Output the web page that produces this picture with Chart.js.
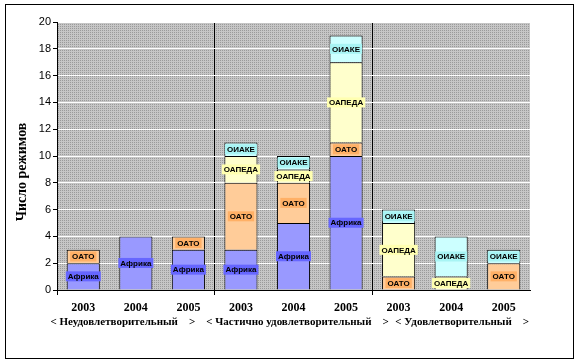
<!DOCTYPE html>
<html>
<head>
<meta charset="utf-8">
<script src="https://cdn.jsdelivr.net/npm/chart.js@4.4.1/dist/chart.umd.min.js"></script>
<style>
  html, body { margin: 0; padding: 0; background: #fff; }
  #wrap { width: 579px; height: 364px; }
</style>
</head>
<body>
<div id="wrap"><canvas id="regimesChart" width="579" height="364"></canvas></div>
<script>
// Data
const categories = ['2003', '2004', '2005', '2003', '2004', '2005', '2003', '2004', '2005'];
const groups = ['< Неудовлетворительный    >', '< Частично удовлетворительный    >', '< Удовлетворительный    >'];
const seriesNames = ['Африка', 'ОАТО', 'ОАПЕДА', 'ОИАКЕ'];
const africa = [2, 4, 3, 3, 5, 10, 0, 0, 0];
const oato = [1, 0, 1, 5, 3, 1, 1, 0, 2];
const oapeda = [0, 0, 0, 2, 1, 6, 4, 1, 0];
const oiake = [0, 0, 0, 1, 1, 2, 1, 3, 1];
const yMax = 20;
const yStep = 2;

const fills = ['#9999ff', '#ffcc99', '#ffffcc', '#ccffff'];
const labelBg = ['#6666ff', '#ffb066', '#ffffb0', '#a8f4f4'];
// group captions sit a little off the group centres in the original
const groupShift = [-13, 4, 11];

// dotted grey background of the plot area
function makePattern() {
    const c = document.createElement('canvas');
    c.width = 2; c.height = 2;
    const g = c.getContext('2d');
    g.fillStyle = '#c6c6c6';
    g.fillRect(0, 0, 2, 2);
    g.fillStyle = '#9a9a9a';
    g.fillRect(0, 0, 1, 1);
    return g.createPattern(c, 'repeat');
}

const decor = {
    id: 'decor',
    beforeDraw(chart) {
        const ctx = chart.ctx, a = chart.chartArea;
        ctx.save();
        ctx.fillStyle = '#fff';
        ctx.fillRect(0, 0, chart.width, chart.height);
        ctx.strokeStyle = '#000';
        ctx.lineWidth = 1;
        ctx.strokeRect(5.5, 4.5, 568, 354);
        ctx.fillStyle = makePattern();
        ctx.fillRect(a.left, a.top, a.right - a.left, a.bottom - a.top);
        ctx.restore();
    },
    afterDraw(chart) {
        const ctx = chart.ctx, a = chart.chartArea;
        ctx.save();
        // y axis title
        ctx.translate(22, 172);
        ctx.rotate(-Math.PI / 2);
        ctx.font = 'bold 14px "Liberation Serif"';
        ctx.fillStyle = '#000';
        ctx.textAlign = 'center';
        ctx.textBaseline = 'middle';
        ctx.fillText('Число режимов', 0, 0);
        ctx.restore();

        // group captions under the years
        ctx.save();
        ctx.font = 'bold 11px "Liberation Serif"';
        ctx.fillStyle = '#000';
        ctx.textAlign = 'center';
        ctx.textBaseline = 'middle';
        const w = (a.right - a.left) / 3;
        groups.forEach((g, i) => {
            ctx.fillText(g, a.left + w * i + w / 2 + groupShift[i], 322);
        });
        ctx.restore();

        // segment labels
        ctx.save();
        ctx.font = 'bold 8px "Liberation Sans"';
        ctx.textAlign = 'center';
        ctx.textBaseline = 'middle';
        chart.data.datasets.forEach((ds, di) => {
            const meta = chart.getDatasetMeta(di);
            meta.data.forEach((bar, i) => {
                if (!ds.data[i]) return;
                const p = bar.getProps(['x', 'y', 'base', 'width'], true);
                const cy = (p.y + p.base) / 2;
                const tw = ctx.measureText(ds.label).width;
                ctx.fillStyle = labelBg[di];
                ctx.fillRect(p.x - tw / 2 - 2, cy - 5, tw + 4, 10);
                ctx.fillStyle = '#000';
                ctx.fillText(ds.label, p.x, cy + 0.5);
            });
        });
        ctx.restore();
    }
};

const seriesData = [africa, oato, oapeda, oiake];

new Chart(document.getElementById('regimesChart'), {
    type: 'bar',
    data: {
        labels: categories,
        datasets: seriesNames.map((name, i) => ({
            label: name,
            // empty segments are left out so they draw no outline
            data: seriesData[i].map(v => v === 0 ? null : v),
            backgroundColor: fills[i],
            borderColor: '#000',
            borderWidth: 1,
            borderSkipped: 'start',
            categoryPercentage: 1,
            barPercentage: 0.63
        }))
    },
    options: {
        responsive: false,
        animation: false,
        layout: { padding: { left: 10, top: 22, right: 49, bottom: 0 } },
        plugins: {
            legend: { display: false },
            tooltip: { enabled: false }
        },
        scales: {
            x: {
                stacked: true,
                offset: true,
                grid: {
                    offset: true,
                    drawOnChartArea: true,
                    color: ctx => (ctx.index === 3 || ctx.index === 6) ? '#000' : 'rgba(0,0,0,0)',
                    tickColor: ctx => (ctx.index % 3 === 0) ? '#000' : 'rgba(0,0,0,0)',
                    tickLength: 5
                },
                border: { color: '#000' },
                ticks: {
                    color: '#000',
                    font: { family: 'Liberation Serif', size: 12, weight: 'bold' },
                    padding: 6
                },
                afterFit(scale) { scale.height = 74; }
            },
            y: {
                stacked: true,
                min: 0,
                max: yMax,
                grid: { color: '#fff', tickColor: '#000', tickLength: 4 },
                border: { color: '#000' },
                ticks: {
                    stepSize: yStep,
                    color: '#000',
                    font: { family: 'Liberation Sans', size: 11 },
                    padding: 2
                },
                afterFit(scale) { scale.width = 47; }
            }
        }
    },
    plugins: [decor]
});
</script>
</body>
</html>
